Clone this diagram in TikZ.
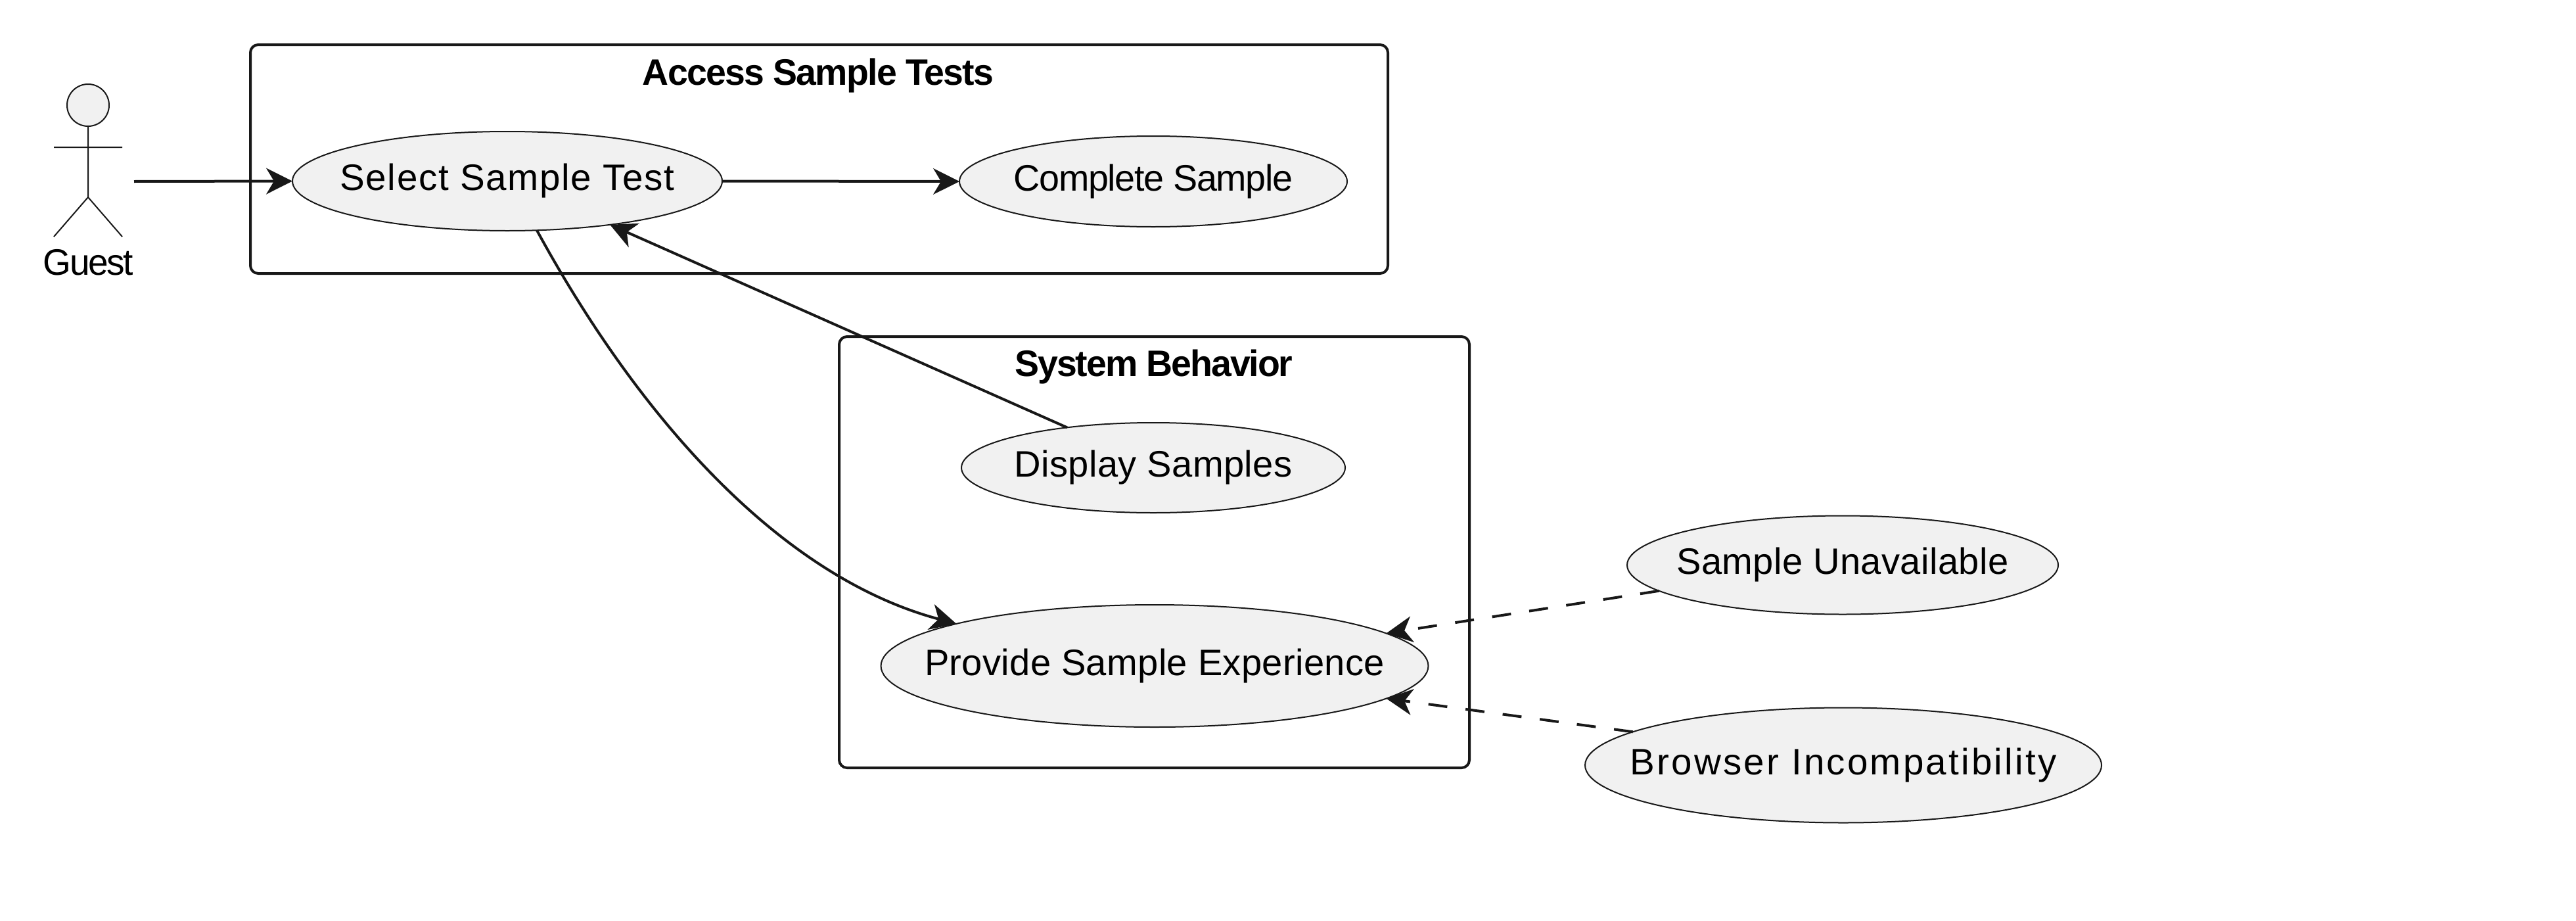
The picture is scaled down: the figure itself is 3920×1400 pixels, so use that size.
\documentclass[tikz,border=0pt]{standalone}
\usepackage{fontspec}
\setmainfont{Liberation Sans}
\usetikzlibrary{shapes.geometric,arrows.meta}
\definecolor{ln}{HTML}{181818}
\definecolor{fl}{HTML}{F1F1F1}
\newsavebox{\fitbox}
% #1 target width, #2 number of characters, #3 text: letter-spaced to the target width
\newcommand{\fitw}[3]{\sbox{\fitbox}{#3}%
  \pgfmathsetmacro{\lsp}{(#1-\the\wd\fitbox/1pt*1)/#2/56*100}%
  {\addfontfeature{LetterSpace=\lsp}\resizebox{#1pt}{\height}{#3}}}
\newcommand{\uctext}[3]{\raisebox{-14pt}[0pt][0pt]{\makebox[0pt][c]{\fitw{#1}{#2}{#3}}}}
\tikzset{
  uc/.style={ellipse,draw=ln,fill=fl,line width=2pt,inner sep=0pt,outer sep=0pt,font=\fontsize{56}{60}\selectfont},
  frame/.style={rectangle,draw=ln,line width=4pt,rounded corners=12pt,inner sep=0pt,outer sep=0pt},
  ttl/.style={anchor=base,inner sep=0pt,font=\bfseries\fontsize{56}{60}\selectfont},
  lbl/.style={anchor=base,inner sep=0pt,font=\fontsize{56}{60}\selectfont},
  actorline/.style={draw=ln,line width=2pt},
  conn/.style={draw=ln,line width=4pt,-{Stealth[length=40pt,width=40pt,inset=12pt,line width=2pt]}},
  dconn/.style={conn,dash pattern=on 29pt off 28pt},
}
\begin{document}
\begin{tikzpicture}[x=1pt,y=-1pt]
\useasboundingbox (0,0) rectangle (3920,1400);
\node[frame,minimum width=1731pt,minimum height=348pt] (f1) at (1246.5,242) {};
\node[frame,minimum width=959pt,minimum height=656pt] (f2) at (1756.5,840) {};
\node[ttl] (t1) at (1245,129) {\fitw{534}{19}{Access Sample Tests}};
\node[ttl] (t2) at (1756,572) {\fitw{423}{15}{System Behavior}};
\node[uc,minimum width=654pt,minimum height=151pt] (sel) at (772,275.5) {\uctext{509}{18}{Select Sample Test}};
\node[uc,minimum width=590pt,minimum height=138pt] (comp) at (1755,276) {\uctext{425}{15}{Complete Sample}};
\node[uc,minimum width=584pt,minimum height=137pt] (disp) at (1755,711.5) {\uctext{423}{15}{Display Samples}};
\node[uc,minimum width=833pt,minimum height=186pt] (prov) at (1757,1013) {\uctext{700}{25}{Provide Sample Experience}};
\node[uc,minimum width=656pt,minimum height=150pt] (un) at (2804,859.5) {\uctext{505}{18}{Sample Unavailable}};
\node[uc,minimum width=786pt,minimum height=175pt] (br) at (2805,1164) {\uctext{649}{23}{Browser Incompatibility}};
% actor
\node[ellipse,draw=ln,fill=fl,line width=2pt,minimum size=64pt,inner sep=0pt,outer sep=0pt] (head) at (134,160) {};
\coordinate (hip) at (134,300);
\coordinate (armL) at (82,224);
\coordinate (armR) at (186,224);
\coordinate (legL) at (82,360);
\coordinate (legR) at (186,360);
\draw[actorline] (head.south) -- (hip) (armL) -- (armR) (legL) -- (hip) -- (legR);
\node[lbl] (guest) at (134.5,418) {\fitw{137}{5}{Guest}};
\coordinate (gout) at (204,276);
\draw[conn] (gout) -- (sel.west);
\draw[conn] (sel.east) -- (comp.west);
\draw[conn] (disp.155.8) -- (sel.-23.5);
\draw[conn] (sel.-59.2) .. controls (975,640) and (1190,878) .. (prov.168.1);
\draw[dconn] (un.188.2) -- (prov.8.4);
\draw[dconn] (br.171.75) -- (prov.-8.1);
\end{tikzpicture}
\end{document}
